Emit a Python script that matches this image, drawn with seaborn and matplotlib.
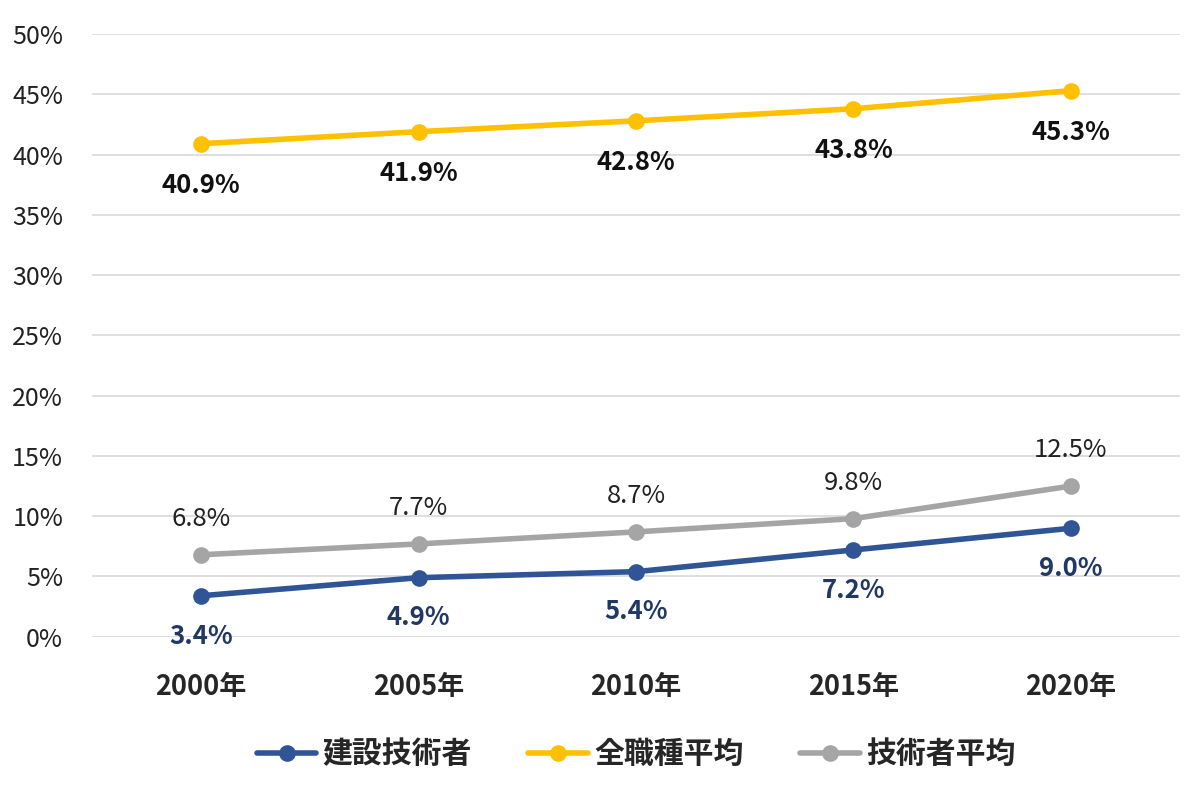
import pandas as pd
import matplotlib.pyplot as plt
import seaborn as sns

years = ["2000年", "2005年", "2010年", "2015年", "2020年"]
kensetsu = [3.4, 4.9, 5.4, 7.2, 9.0]
zenshoku = [40.9, 41.9, 42.8, 43.8, 45.3]
gijutsu = [6.8, 7.7, 8.7, 9.8, 12.5]
series_names = ["建設技術者", "全職種平均", "技術者平均"]
y_ticks = [0, 5, 10, 15, 20, 25, 30, 35, 40, 45, 50]

colors = {"建設技術者": "#2F5597", "全職種平均": "#FFC000", "技術者平均": "#A5A5A5"}

df = pd.DataFrame({
    "year": years * 3,
    "value": kensetsu + zenshoku + gijutsu,
    "series": [n for n in series_names for _ in years],
})

sns.set_theme(style="white")
plt.rcParams["font.family"] = ["Noto Sans CJK JP", "DejaVu Sans"]

fig = plt.figure(figsize=(12, 7.91), dpi=100)
ax = fig.add_axes([0.077, 0.195, 0.906, 0.762])

sns.lineplot(data=df, x="year", y="value", hue="series", hue_order=series_names,
             palette=colors, marker="o", markersize=12, markeredgewidth=0,
             linewidth=4, ax=ax, sort=False)

ax.set_ylim(0, 50)
ax.set_xlim(-0.5, 4.5)
ax.set_yticks(y_ticks)
ax.set_yticklabels([f"{t}%" for t in y_ticks], fontsize=18, color="#222222")
ax.yaxis.grid(True, color="#D9D9D9", linewidth=1.2)
ax.tick_params(axis="x", labelsize=19.5, pad=26, length=0)
ax.tick_params(axis="y", length=0, pad=21)
for lbl in ax.get_xticklabels():
    lbl.set_fontweight("bold")
for s in ax.spines.values():
    s.set_visible(False)
ax.set_xlabel("")
ax.set_ylabel("")

# data labels
for i, v in enumerate(zenshoku):
    ax.annotate(f"{v}%", (i, v), xytext=(0, -30), textcoords="offset points",
                ha="center", va="center", fontsize=18.5, fontweight="bold", color="#111111")
for i, v in enumerate(kensetsu):
    ax.annotate(f"{v}%", (i, v), xytext=(0, -29), textcoords="offset points",
                ha="center", va="center", fontsize=18.5, fontweight="bold", color="#203864")
for i, v in enumerate(gijutsu):
    ax.annotate(f"{v}%", (i, v), xytext=(0, 26), textcoords="offset points",
                ha="center", va="center", fontsize=18.5, color="#222222")

leg = ax.legend(loc="upper center", bbox_to_anchor=(0.5, -0.125), ncol=3, frameon=False,
                fontsize=21.5, handlelength=2.0, columnspacing=1.9, handletextpad=0.2)
for t in leg.get_texts():
    t.set_fontweight("bold")

fig.savefig("out.png", dpi=100)
